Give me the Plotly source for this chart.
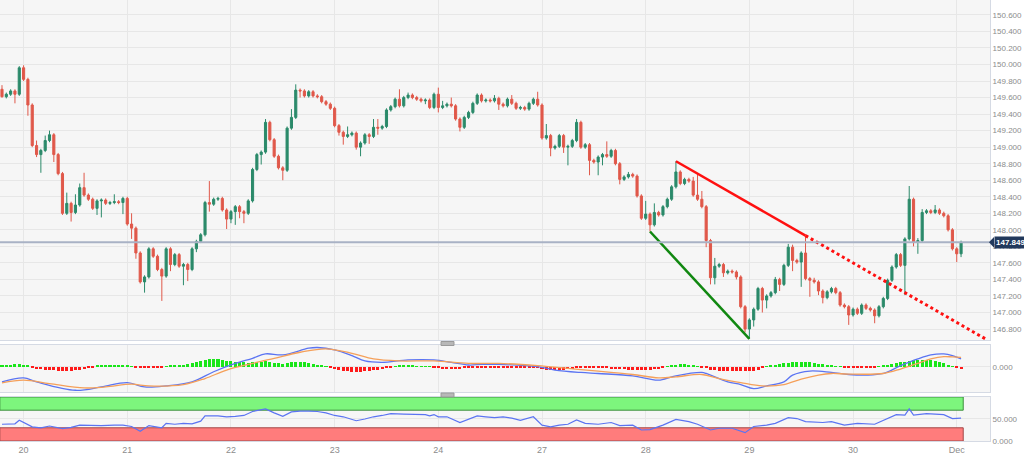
import plotly.graph_objects as go

# USD/JPY hourly candles, Nov 20 - Dec 1
FIRST_OPEN = 149.70
CLOSE = [
    149.61, 149.64, 149.68, 149.64, 149.96, 149.82, 149.51, 149.02, 148.91, 148.96, 149.08, 149.15,
    148.91, 148.68, 148.20, 148.32, 148.21, 148.30, 148.51, 148.42, 148.37, 148.26, 148.35, 148.36,
    148.32, 148.33, 148.34, 148.33, 148.38, 148.07, 148.02, 147.72, 147.37, 147.43, 147.77, 147.68,
    147.52, 147.44, 147.77, 147.58, 147.70, 147.56, 147.58, 147.52, 147.77, 147.86, 147.94, 148.33,
    148.31, 148.37, 148.38, 148.24, 148.13, 148.22, 148.28, 148.22, 148.20, 148.35, 148.73, 148.91,
    148.94, 149.30, 149.09, 148.89, 148.75, 148.72, 149.23, 149.36, 149.69, 149.68, 149.62, 149.67,
    149.62, 149.61, 149.55, 149.52, 149.47, 149.26, 149.18, 149.13, 149.15, 149.17, 149.00, 149.05,
    149.15, 149.13, 149.24, 149.23, 149.25, 149.45, 149.49, 149.58, 149.50, 149.60, 149.63, 149.60,
    149.58, 149.56, 149.57, 149.48, 149.64, 149.48, 149.50, 149.52, 149.50, 149.34, 149.24, 149.36,
    149.42, 149.53, 149.63, 149.56, 149.57, 149.56, 149.59, 149.52, 149.50, 149.58, 149.53, 149.47,
    149.48, 149.46, 149.53, 149.58, 149.51, 149.11, 149.14, 148.99, 149.01, 149.14, 149.00, 149.01,
    149.08, 149.30, 149.00, 149.03, 148.84, 148.82, 148.88, 148.91, 148.89, 148.96, 148.80, 148.61,
    148.64, 148.67, 148.65, 148.41, 148.14, 148.19, 148.06, 148.21, 148.18, 148.28, 148.37, 148.52,
    148.70, 148.56, 148.61, 148.59, 148.42, 148.37, 148.28, 147.87, 147.42, 147.56, 147.58, 147.48,
    147.50, 147.49, 147.43, 147.07, 146.80, 146.91, 147.04, 147.29, 147.15, 147.20, 147.24, 147.40,
    147.34, 147.57, 147.79, 147.63, 147.61, 147.72, 147.41, 147.39, 147.37, 147.26, 147.18, 147.25,
    147.29, 147.24, 147.09, 147.07, 146.97, 147.04, 146.99, 147.09, 147.05, 147.03, 146.96, 147.07,
    147.17, 147.39, 147.55, 147.70, 147.57, 147.89, 148.37, 147.85, 147.87, 148.21, 148.23, 148.21,
    148.24, 148.20, 148.17, 148.00, 147.77, 147.71, 147.849,
]
# wick length above / below the body, in pips
UP_WICK = [
    5, 2, 2, 2, 2, 3, 2, 2, 6, 2, 6, 5,
    2, 2, 2, 13, 2, 13, 5, 18, 2, 2, 2, 2,
    2, 2, 9, 2, 2, 2, 13, 2, 2, 2, 2, 2,
    2, 2, 2, 2, 2, 2, 2, 2, 2, 2, 2, 2,
    26, 2, 2, 2, 2, 2, 2, 2, 2, 2, 2, 2,
    2, 4, 2, 2, 2, 2, 2, 10, 7, 2, 2, 2,
    2, 2, 2, 2, 2, 2, 2, 2, 10, 2, 2, 2,
    2, 2, 10, 10, 2, 2, 2, 2, 12, 2, 3, 2,
    2, 2, 2, 2, 2, 8, 6, 2, 8, 2, 2, 2,
    2, 2, 2, 2, 2, 2, 4, 2, 2, 2, 5, 2,
    2, 2, 2, 2, 9, 2, 14, 2, 2, 2, 2, 2,
    2, 4, 2, 2, 2, 2, 2, 2, 16, 2, 2, 2,
    2, 3, 2, 2, 2, 16, 2, 11, 2, 2, 2, 2,
    13, 2, 2, 2, 5, 26, 10, 2, 2, 10, 2, 2,
    2, 2, 2, 2, 2, 2, 2, 2, 2, 2, 2, 3,
    2, 2, 4, 3, 2, 2, 21, 2, 3, 2, 2, 2,
    2, 2, 2, 2, 2, 2, 2, 2, 2, 2, 2, 2,
    2, 2, 2, 2, 2, 2, 16, 2, 3, 4, 2, 2,
    6, 2, 2, 2, 2, 2, 2,
]
DN_WICK = [
    1, 2, 2, 11, 2, 2, 13, 2, 3, 22, 2, 2,
    9, 2, 2, 2, 11, 2, 2, 2, 2, 2, 8, 20,
    2, 2, 2, 2, 14, 2, 13, 7, 2, 13, 2, 2,
    2, 30, 2, 8, 2, 2, 23, 14, 2, 4, 2, 2,
    9, 2, 2, 2, 12, 5, 16, 8, 12, 2, 2, 2,
    12, 2, 2, 2, 2, 12, 2, 2, 2, 8, 2, 2,
    2, 2, 2, 2, 2, 2, 4, 10, 2, 2, 3, 11,
    2, 9, 2, 8, 2, 2, 2, 2, 2, 2, 2, 2,
    2, 2, 4, 2, 2, 6, 2, 2, 2, 2, 5, 2,
    2, 2, 2, 2, 2, 2, 2, 7, 2, 2, 2, 2,
    2, 2, 2, 2, 2, 2, 2, 10, 2, 2, 7, 22,
    2, 2, 2, 2, 18, 2, 16, 10, 2, 2, 2, 6,
    2, 2, 2, 2, 2, 2, 8, 2, 2, 2, 2, 2,
    2, 2, 2, 2, 2, 2, 2, 8, 8, 8, 2, 5,
    2, 2, 3, 2, 4, 12, 8, 2, 15, 10, 2, 2,
    8, 2, 2, 13, 2, 30, 2, 20, 2, 5, 7, 2,
    2, 2, 2, 2, 12, 2, 2, 2, 2, 2, 9, 2,
    2, 2, 2, 2, 2, 36, 2, 5, 14, 2, 2, 2,
    2, 2, 2, 2, 2, 10, 4,
]

DAY_START = [5, 29, 53, 77, 101, 125, 149, 173, 197, 221]
DAY_LABELS = ["20", "21", "22", "23", "24", "27", "28", "29", "30", "Dec"]

# MACD panel
MACD_IDX = [0, 5, 8, 17, 23, 29, 33, 38, 44, 49, 54, 58, 61, 65, 71, 73, 77, 81, 84, 88, 94, 100,
            104, 108, 111, 115, 124, 128, 134, 138, 146, 150, 152, 156, 162, 163, 168, 171, 174, 177,
            181, 183, 187, 192, 196, 200, 204, 208, 212, 215, 218, 220, 222]
MACD_VAL = [-0.150, -0.110, -0.150, -0.233, -0.200, -0.157, -0.200, -0.190, -0.150, -0.050, 0.033,
            0.083, 0.127, 0.117, 0.183, 0.190, 0.167, 0.110, 0.057, 0.043, 0.067, 0.067, 0.043, 0.017,
            0.023, 0.023, 0.000, -0.033, -0.057, -0.067, -0.090, -0.123, -0.133, -0.090, -0.057,
            -0.067, -0.150, -0.177, -0.217, -0.190, -0.150, -0.083, -0.043, -0.057, -0.077, -0.083,
            -0.067, 0.010, 0.077, 0.117, 0.127, 0.110, 0.077]
SIGNAL_IDX = [0, 5, 11, 19, 24, 30, 34, 42, 47, 52, 58, 63, 69, 75, 81, 86, 92, 100, 108, 115, 124,
              131, 138, 146, 152, 156, 162, 166, 171, 176, 181, 185, 189, 192, 196, 204, 208, 212,
              215, 218, 220, 222]
SIGNAL_VAL = [-0.160, -0.133, -0.167, -0.210, -0.200, -0.173, -0.190, -0.177, -0.117, -0.033, 0.033,
              0.083, 0.143, 0.177, 0.133, 0.077, 0.057, 0.057, 0.033, 0.033, 0.010, -0.017, -0.043,
              -0.077, -0.110, -0.100, -0.077, -0.117, -0.157, -0.190, -0.177, -0.123, -0.083,
              -0.067, -0.073, -0.067, -0.023, 0.033, 0.077, 0.100, 0.097, 0.093]
HIST = [
    0.010, 0.020, 0.020, 0.030, 0.030, 0.020, 0.010, -0.010, -0.020, -0.020, -0.030, -0.030,
    -0.030, -0.040, -0.040, -0.040, -0.040, -0.030, -0.030, -0.020, -0.010, -0.005, 0.010, 0.010,
    0.020, 0.020, 0.020, 0.020, 0.015, 0.010, 0.005, -0.010, -0.010, -0.015, -0.010, -0.010,
    -0.005, -0.005, 0.005, 0.010, 0.010, 0.015, 0.020, 0.030, 0.040, 0.050, 0.060, 0.070,
    0.075, 0.077, 0.075, 0.070, 0.060, 0.055, 0.050, 0.050, 0.045, 0.040, 0.045, 0.050,
    0.050, 0.055, 0.050, 0.040, 0.035, 0.030, 0.040, 0.050, 0.050, 0.050, 0.045, 0.040,
    0.030, 0.020, 0.010, 0.003, -0.010, -0.020, -0.030, -0.040, -0.045, -0.050, -0.050, -0.050,
    -0.045, -0.040, -0.035, -0.030, -0.020, -0.010, -0.005, 0.005, 0.008, 0.010, 0.010, 0.008,
    0.005, 0.005, 0.005, 0.003, -0.005, -0.010, -0.020, -0.025, -0.025, -0.025, -0.020, -0.015,
    -0.010, -0.008, -0.006, -0.005, -0.005, -0.005, -0.005, -0.005, -0.005, -0.005, -0.005, -0.005,
    -0.005, -0.005, -0.005, -0.005, -0.010, -0.020, -0.030, -0.035, -0.035, -0.030, -0.030, -0.025,
    -0.020, -0.015, -0.010, -0.010, -0.010, -0.010, -0.015, -0.015, -0.015, -0.020, -0.020, -0.025,
    -0.025, -0.030, -0.030, -0.030, -0.030, -0.030, -0.030, -0.025, -0.020, -0.010, 0.005, 0.015,
    0.020, 0.025, 0.025, 0.020, 0.015, 0.005, -0.005, -0.015, -0.030, -0.035, -0.040, -0.040,
    -0.040, -0.040, -0.040, -0.040, -0.040, -0.045, -0.040, -0.030, -0.015, 0.005, 0.010, 0.020,
    0.030, 0.035, 0.040, 0.045, 0.050, 0.050, 0.050, 0.045, 0.040, 0.030, 0.025, 0.020,
    0.010, 0.005, 0.003, -0.005, -0.005, -0.005, -0.005, -0.005, -0.005, -0.003, -0.003, 0.003,
    0.010, 0.015, 0.025, 0.035, 0.045, 0.050, 0.060, 0.065, 0.070, 0.070, 0.070, 0.065,
    0.060, 0.050, 0.040, 0.020, 0.005, -0.015, -0.020,
]

# RSI panel
RSI_IDX = [0, 3, 4, 7, 9, 11, 14, 16, 18, 20, 23, 26, 28, 30, 32, 34, 36, 37, 38, 40, 42, 44, 46, 47,
           50, 52, 54, 56, 58, 60, 61, 63, 65, 67, 69, 71, 73, 75, 77, 79, 82, 84, 86, 88, 90, 93,
           96, 98, 99, 100, 101, 103, 106, 108, 110, 112, 114, 116, 118, 120, 123, 125, 127, 129,
           131, 133, 135, 138, 141, 143, 146, 148, 150, 153, 156, 159, 161, 164, 166, 169, 172,
           174, 177, 179, 182, 184, 186, 190, 192, 195, 198, 202, 205, 207, 209, 210, 211, 214,
           218, 220, 222]
RSI_VAL = [38, 39, 47, 32, 30, 34, 28, 31, 36, 35, 35, 36, 36, 33, 22, 35, 32, 30, 40, 38, 40, 39,
           45, 57, 57, 55, 56, 58, 67, 70, 73, 64, 56, 66, 68, 68, 67, 64, 58, 55, 46, 50, 55, 58,
           62, 61, 61, 60, 57, 60, 55, 55, 42, 50, 57, 55, 53, 55, 52, 47, 55, 36, 32, 36, 38, 48,
           40, 38, 42, 35, 36, 25, 26, 36, 49, 44, 38, 25, 29, 29, 19, 33, 36, 40, 53, 51, 44, 42,
           44, 36, 40, 38, 51, 60, 59, 73, 59, 62, 60, 51, 52]

# drawn trend lines (candle index, price)
RES_LINE = [(156, 148.83), (186, 147.93)]
RES_EXT = [(186, 147.93), (228, 146.67)]
SUP_LINE = [(150, 147.98), (173, 146.68)]

UP = "#2b8a6a"
DOWN = "#e0584a"
GRID = "#e7e7e7"
BORDER = "#d5dae4"
TICK = "#8c8c8c"
NAVY = "#22395c"
FONT = "Liberation Sans, Arial, sans-serif"

idx = list(range(len(CLOSE)))
opens = [FIRST_OPEN] + CLOSE[:-1]
highs = [max(o, c) + u / 100 for o, c, u in zip(opens, CLOSE, UP_WICK)]
lows = [min(o, c) - d / 100 for o, c, d in zip(opens, CLOSE, DN_WICK)]
last = CLOSE[-1]

fig = go.Figure()

fig.add_trace(go.Candlestick(
    x=idx, open=opens, high=highs, low=lows, close=CLOSE,
    increasing=dict(line=dict(color=UP, width=1), fillcolor=UP),
    decreasing=dict(line=dict(color=DOWN, width=1), fillcolor=DOWN),
    whiskerwidth=0, xaxis="x", yaxis="y", showlegend=False, hoverinfo="skip",
))

for pts, dash, color in [(RES_LINE, "solid", "#ff1010"), (RES_EXT, "dot", "#ff1010"),
                         (SUP_LINE, "solid", "#118811")]:
    fig.add_trace(go.Scatter(
        x=[p[0] for p in pts], y=[p[1] for p in pts], mode="lines",
        line=dict(color=color, width=2.5 if dash == "solid" else 3, dash=dash),
        xaxis="x", yaxis="y", showlegend=False, hoverinfo="skip",
    ))

# MACD
fig.add_trace(go.Bar(
    x=idx, y=HIST, width=0.7,
    marker=dict(color=["#19e619" if v >= 0 else "#ff1a1a" for v in HIST], line=dict(width=0)),
    xaxis="x2", yaxis="y2", showlegend=False, hoverinfo="skip",
))
fig.add_trace(go.Scatter(x=MACD_IDX, y=MACD_VAL, mode="lines", line=dict(color="#5b74f2", width=1.3, shape="spline"),
                         xaxis="x2", yaxis="y2", showlegend=False, hoverinfo="skip"))
fig.add_trace(go.Scatter(x=SIGNAL_IDX, y=SIGNAL_VAL, mode="lines", line=dict(color="#f5a05a", width=1.3, shape="spline"),
                         xaxis="x2", yaxis="y2", showlegend=False, hoverinfo="skip"))

# RSI
fig.add_trace(go.Scatter(x=RSI_IDX, y=RSI_VAL, mode="lines", line=dict(color="#5b74f2", width=1.2),
                         xaxis="x3", yaxis="y3", showlegend=False, hoverinfo="skip"))

xrange = [-0.46, 228.7]
xcommon = dict(domain=[0, 0.9668], range=xrange, tickmode="array", tickvals=DAY_START,
               showgrid=True, gridcolor=GRID, zeroline=False, showline=True, linecolor=BORDER,
               mirror=True, fixedrange=True)
ycommon = dict(side="right", showgrid=True, gridcolor=GRID, zeroline=False, showline=True,
               linecolor=BORDER, mirror=True, ticks="", automargin=False, fixedrange=True,
               tickfont=dict(size=8, color=TICK, family=FONT))

n = len(CLOSE)
half_box = 0.065  # half height of the price tag, in price units
shapes = [
    dict(type="rect", xref="x3", yref="y3", x0=-0.5, x1=n - 0.5, y0=70, y1=100,
         fillcolor="#7df57d", line=dict(color="#3d8f3d", width=1), layer="between"),
    dict(type="rect", xref="x3", yref="y3", x0=-0.5, x1=n - 0.5, y0=0, y1=30,
         fillcolor="#ff7c7c", line=dict(color="#a34848", width=1), layer="between"),
    dict(type="line", xref="x domain", yref="y", x0=0, x1=1, y0=last, y1=last,
         line=dict(color="#a9b2c5", width=2), layer="above"),
    dict(type="path", xref="paper", yref="y",
         path=f"M {989 / 1024},{last} L {994 / 1024},{last + half_box} L {994 / 1024},{last - half_box} Z",
         fillcolor=NAVY, line=dict(width=0)),
    dict(type="rect", xref="paper", yref="paper", x0=441 / 1024, x1=454 / 1024,
         y0=1 - 345.5 / 455, y1=1 - 341.5 / 455, fillcolor="#b8b8b8", line=dict(color="#9a9a9a", width=1)),
    dict(type="rect", xref="paper", yref="paper", x0=441 / 1024, x1=454 / 1024,
         y0=1 - 397 / 455, y1=1 - 393 / 455, fillcolor="#b8b8b8", line=dict(color="#9a9a9a", width=1)),
]

fig.update_layout(
    width=1024, height=455,
    paper_bgcolor="#ffffff", plot_bgcolor="#f6f6f6",
    margin=dict(l=0, r=0, t=0, b=0),
    font=dict(family=FONT, size=10, color=TICK),
    showlegend=False, bargap=0,
    xaxis=dict(**xcommon, anchor="y", showticklabels=False, rangeslider=dict(visible=False)),
    xaxis2=dict(**xcommon, anchor="y2", matches="x", showticklabels=False),
    xaxis3=dict(**xcommon, anchor="y3", matches="x", showticklabels=True, ticktext=DAY_LABELS,
                ticks="", tickfont=dict(size=9, color=TICK, family=FONT)),
    yaxis=dict(**ycommon, domain=[0.2527, 1], range=[146.667, 150.78], anchor="x",
               tickmode="linear", tick0=146.8, dtick=0.2, tickformat=".3f"),
    yaxis2=dict(**ycommon, domain=[0.1385, 0.2418], range=[-0.25, 0.215], anchor="x2",
                tickmode="array", tickvals=[0], ticktext=["0.000"]),
    yaxis3=dict(**ycommon, domain=[0.0308, 0.1275], range=[0, 100], anchor="x3",
                tickmode="array", tickvals=[0, 50], ticktext=["0.000", "50.000"]),
    shapes=shapes,
    annotations=[dict(
        xref="x domain", yref="y", x=1.004, y=last, xanchor="left", yanchor="middle",
        text=f"<b>{last:.3f}</b>", showarrow=False, bgcolor=NAVY, borderpad=1,
        font=dict(size=8, color="#ffffff", family=FONT),
    )],
)

fig.write_html("out.html", config={"displayModeBar": False},
               post_script="document.body.style.margin='0';")
